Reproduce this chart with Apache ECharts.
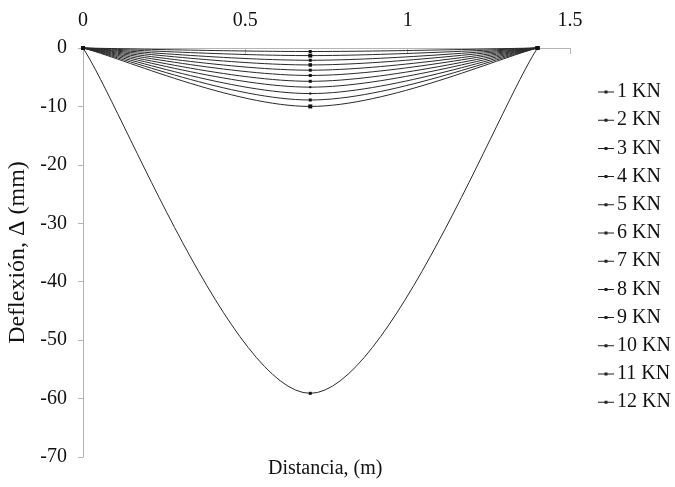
<!DOCTYPE html>
<html>
<head>
<meta charset="utf-8">
<style>
  html, body { margin: 0; padding: 0; background: #fff; }
  #chart { width: 675px; height: 487px; }
</style>
<script src="https://cdn.jsdelivr.net/npm/echarts@6/dist/echarts.min.js"></script>
</head>
<body>
<div id="chart"></div>
<script>
// Beam deflection under increasing loads: supports at 0 and 1.4 m, load at mid-span
const distance = [0, 0.7, 1.4];
const loads = ['1 KN', '2 KN', '3 KN', '4 KN', '5 KN', '6 KN', '7 KN', '8 KN', '9 KN', '10 KN', '11 KN', '12 KN'];
const deflections = [
  [0, -0.6, 0],
  [0, -1.3, 0],
  [0, -2.1, 0],
  [0, -2.9, 0],
  [0, -3.8, 0],
  [0, -4.7, 0],
  [0, -5.7, 0],
  [0, -6.7, 0],
  [0, -7.8, 0],
  [0, -8.9, 0],
  [0, -10.0, 0],
  [0, -59.1, 0]
];
const xTicks = [0, 0.5, 1, 1.5];
const yTicks = [-70, -60, -50, -40, -30, -20, -10, 0];

const FONT = '"Liberation Serif", "Times New Roman", serif';
const markerSizes = [3, 4, 3, 3.5, 3, 3, 3, 2, 2, 3, 4, 3];
const LINE_COLOR = '#2a2a2a';
const MARK_COLOR = '#111';
// legend icon: short line with a small square in the middle
const LEGEND_ICON = 'path://M0,1.5H16V2.5H0Z M6.5,0.5H9.5V3.5H6.5Z';

const chart = echarts.init(document.getElementById('chart'), null, { renderer: 'canvas' });

// Smoothed curve through the measured points (Catmull-Rom style Bezier
// segments computed in pixel space) plus a square marker at each point.
function makeRenderer(seriesIdx) {
  const ys = deflections[seriesIdx];
  const n = distance.length;
  return function (params, api) {
    const j = params.dataIndex;
    const P = function (k) {
      const kk = Math.max(0, Math.min(n - 1, k));
      return api.coord([distance[kk], ys[kk]]);
    };
    const children = [];
    if (j < n - 1) {
      const p0 = P(j - 1), p1 = P(j), p2 = P(j + 1), p3 = P(j + 2);
      children.push({
        type: 'bezierCurve',
        shape: {
          x1: p1[0], y1: p1[1],
          x2: p2[0], y2: p2[1],
          cpx1: p1[0] + (p2[0] - p0[0]) / 6,
          cpy1: p1[1] + (p2[1] - p0[1]) / 6,
          cpx2: p2[0] - (p3[0] - p1[0]) / 6,
          cpy2: p2[1] - (p3[1] - p1[1]) / 6
        },
        style: { stroke: LINE_COLOR, lineWidth: 1, fill: 'none' },
        silent: true
      });
    }
    const c = api.coord([api.value(0), api.value(1)]);
    const s = markerSizes[seriesIdx];
    children.push({
      type: 'rect',
      shape: { x: c[0] - s / 2, y: c[1] - s / 2, width: s, height: s },
      style: { fill: MARK_COLOR },
      z2: 10,
      silent: true
    });
    return { type: 'group', children: children };
  };
}

const series = loads.map(function (name, i) {
  return {
    name: name,
    type: 'custom',
    coordinateSystem: 'cartesian2d',
    data: distance.map(function (x, j) { return [x, deflections[i][j]]; }),
    encode: { x: 0, y: 1 },
    renderItem: makeRenderer(i),
    itemStyle: { color: '#222' },
    clip: false,
    animation: false
  };
});

chart.setOption({
  backgroundColor: '#fff',
  animation: false,
  grid: { left: 83, right: 105, top: 48, bottom: 30, containLabel: false, outerBoundsMode: 'none' },
  xAxis: {
    type: 'value',
    position: 'top',
    min: xTicks[0],
    max: xTicks[xTicks.length - 1],
    interval: 0.5,
    axisLine: { onZero: false, lineStyle: { color: '#b4b4b4', width: 1 } },
    axisTick: { show: true, inside: true, length: 6, lineStyle: { color: '#b4b4b4' } },
    axisLabel: { color: '#111', fontFamily: FONT, fontSize: 20, margin: 17 },
    splitLine: { show: false }
  },
  yAxis: {
    type: 'value',
    min: yTicks[0],
    max: yTicks[yTicks.length - 1],
    interval: 10,
    name: 'Deflexión, Δ (mm)',
    nameLocation: 'middle',
    nameGap: 49,
    nameTextStyle: { color: '#111', fontFamily: FONT, fontSize: 24 },
    axisLine: { show: true, onZero: false, lineStyle: { color: '#b4b4b4', width: 1 } },
    axisTick: { show: true, length: 5, lineStyle: { color: '#b4b4b4' } },
    axisLabel: { color: '#111', fontFamily: FONT, fontSize: 20, margin: 16 },
    splitLine: { show: false }
  },
  legend: {
    orient: 'vertical',
    left: 593,
    top: 77,
    itemWidth: 16,
    itemHeight: 3,
    itemGap: 8.2,
    icon: LEGEND_ICON,
    textStyle: { color: '#111', fontFamily: FONT, fontSize: 20, lineHeight: 20, padding: [0, 0, 0, -2] },
    data: loads
  },
  graphic: [{
    type: 'text',
    left: 268,
    top: 459,
    style: {
      text: 'Distancia, (m)',
      fill: '#111',
      font: '20px ' + FONT
    }
  }],
  series: series
});
</script>
</body>
</html>
